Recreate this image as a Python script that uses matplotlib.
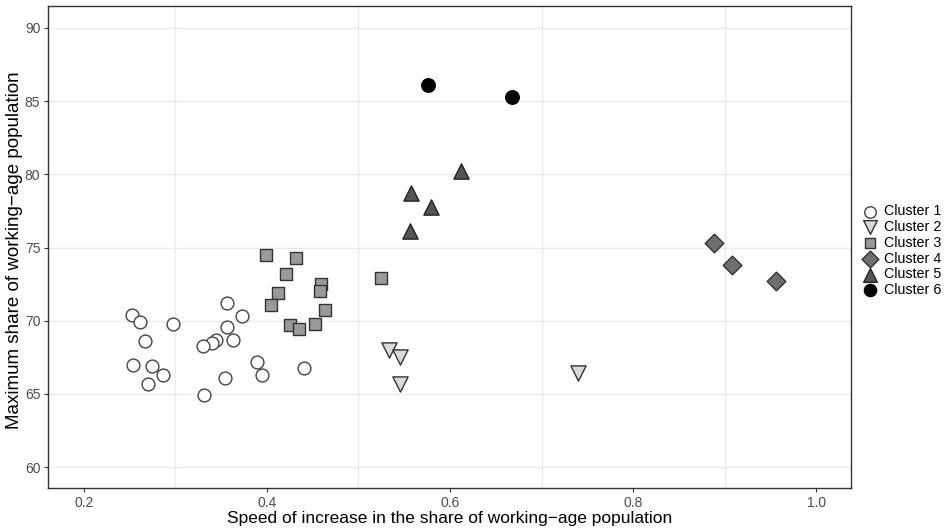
import matplotlib
matplotlib.use("Agg")
import matplotlib.pyplot as plt

plt.rcParams['font.family'] = ['Liberation Sans', 'DejaVu Sans']

# cluster data (speed, max share)
c1_x = [0.253, 0.262, 0.298, 0.267, 0.254, 0.275, 0.287, 0.270, 0.356, 0.373,
        0.357, 0.363, 0.345, 0.340, 0.330, 0.389, 0.395, 0.354, 0.331, 0.441]
c1_y = [70.4, 69.9, 69.8, 68.6, 67.0, 66.9, 66.3, 65.7, 71.2, 70.3,
        69.6, 68.7, 68.7, 68.5, 68.3, 67.2, 66.3, 66.1, 64.9, 66.8]
c2_x = [0.533, 0.545, 0.545, 0.740]
c2_y = [68.0, 67.5, 65.7, 66.4]
c3_x = [0.399, 0.432, 0.421, 0.459, 0.458, 0.412, 0.405, 0.464, 0.425, 0.435,
        0.453, 0.525]
c3_y = [74.5, 74.3, 73.2, 72.5, 72.0, 71.9, 71.1, 70.7, 69.7, 69.4,
        69.8, 72.9]
c4_x = [0.888, 0.908, 0.956]
c4_y = [75.3, 73.8, 72.7]
c5_x = [0.612, 0.557, 0.579, 0.556]
c5_y = [80.2, 78.7, 77.8, 76.1]
c6_x = [0.576, 0.668]
c6_y = [86.1, 85.3]

labels = ["Cluster 1", "Cluster 2", "Cluster 3", "Cluster 4", "Cluster 5", "Cluster 6"]
xs = [c1_x, c2_x, c3_x, c4_x, c5_x, c6_x]
ys = [c1_y, c2_y, c3_y, c4_y, c5_y, c6_y]
markers = ["o", "v", "s", "D", "^", "o"]
sizes = [85, 120, 64, 90, 120, 95]
fills = ["white", "#d9d9d9", "#999999", "#6f6f6f", "#555555", "black"]
edges = ["#444444", "#333333", "#333333", "#333333", "#222222", "black"]

fig = plt.figure(figsize=(9.52, 5.30), dpi=100)
ax = fig.add_axes([0.0504, 0.0792, 0.8436, 0.9095])

for x, y, m, s, fc, ec, lab in zip(xs, ys, markers, sizes, fills, edges, labels):
    ax.scatter(x, y, marker=m, s=s, facecolor=fc, edgecolor=ec, linewidth=1.0,
               label=lab, zorder=3)

ax.set_xlim(0.161, 1.038)
ax.set_ylim(58.57, 91.5)
ax.set_xticks([0.2, 0.4, 0.6, 0.8, 1.0])
ax.set_xticklabels(["0.2", "0.4", "0.6", "0.8", "1.0"])
ax.set_yticks([60, 65, 70, 75, 80, 85, 90])
ax.set_xticks([0.3, 0.5, 0.7, 0.9], minor=True)
ax.tick_params(axis='x', which='minor', length=0)
ax.tick_params(axis='both', which='major', length=3, color='#333333',
               labelsize=10, labelcolor='#4d4d4d', pad=2.5)
ax.grid(True, axis='y', which='major', color='#ebebeb', linewidth=1.0, zorder=0)
ax.grid(True, axis='x', which='minor', color='#ebebeb', linewidth=1.0, zorder=0)
ax.set_axisbelow(True)
for sp in ax.spines.values():
    sp.set_color('#333333')
    sp.set_linewidth(1.0)

ax.set_xlabel("Speed of increase in the share of working\u2212age population",
              fontsize=12.5, labelpad=1)
ax.set_ylabel("Maximum share of working\u2212age population", fontsize=13.5)
ax.yaxis.set_label_coords(-0.031, 0.494)

fig.legend(loc='upper left', bbox_to_anchor=(0.9, 0.625), frameon=False,
           fontsize=10.3, markerscale=0.9, handletextpad=0.5, labelspacing=0.12,
           borderaxespad=0, handlelength=1.0)

fig.savefig("out.png", dpi=100)
